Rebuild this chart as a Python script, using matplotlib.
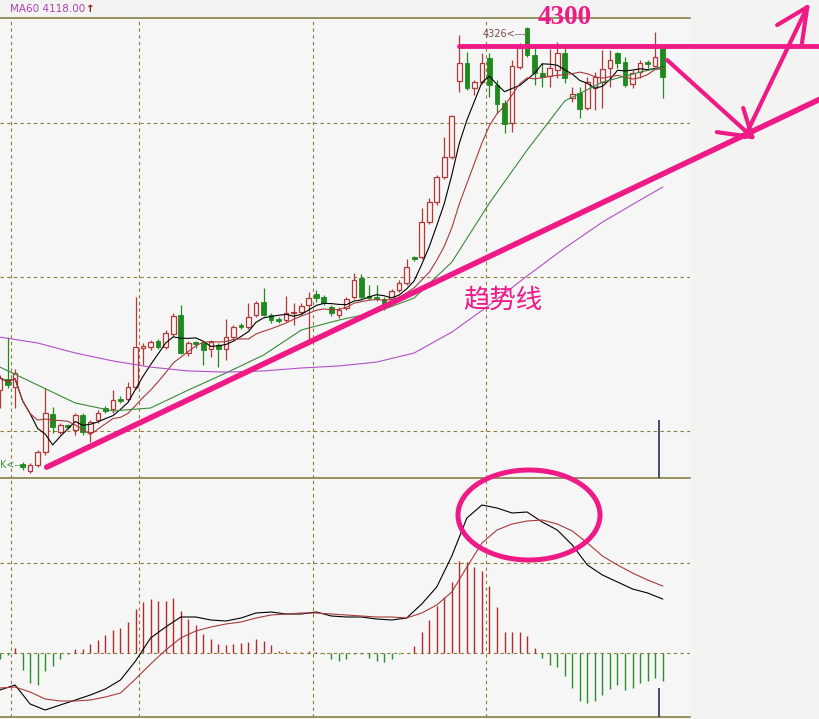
import matplotlib
matplotlib.use("Agg")
import matplotlib.pyplot as plt
from matplotlib.patches import Ellipse
import numpy as np
import pandas as pd

plt.rcParams['font.family'] = ['Noto Sans CJK SC', 'DejaVu Sans']

# 日K线数据 (开, 高, 低, 收)
opens = [3092, 3129, 3102, 2840, 2817, 2837, 2881, 3010, 2949, 2973,
         2956, 3007, 2949, 2990, 3031, 3027, 3061, 3061, 3102, 3235,
         3238, 3259, 3238, 3282, 3347, 3218, 3255, 3252, 3231, 3245,
         3231, 3272, 3313, 3306, 3347, 3391, 3347, 3333, 3330, 3354,
         3357, 3381, 3418, 3408, 3374, 3347, 3371, 3408, 3473, 3412,
         3408, 3401, 3401, 3432, 3456, 3544, 3544, 3663, 3731, 3816,
         3884, 4143, 4204, 4119, 4139, 4221, 4129, 4068, 4000, 4190,
         4323, 4231, 4170, 4160, 4180, 4238, 4085, 4102, 4051, 4119,
         4139, 4187, 4238, 4207, 4132, 4173, 4207, 4194, 4255]
highs = [3143, 3272, 3163, 2847, 2844, 2888, 3099, 3034, 2980, 2976,
         3014, 3014, 2990, 3024, 3038, 3092, 3072, 3119, 3408, 3252,
         3262, 3265, 3296, 3354, 3381, 3259, 3259, 3259, 3262, 3252,
         3333, 3313, 3320, 3388, 3395, 3439, 3354, 3340, 3412, 3388,
         3388, 3425, 3432, 3415, 3381, 3374, 3408, 3490, 3486, 3449,
         3449, 3408, 3435, 3466, 3537, 3548, 3711, 3745, 3823, 3952,
         4027, 4299, 4241, 4146, 4238, 4238, 4146, 4078, 4214, 4272,
         4326, 4255, 4204, 4251, 4275, 4255, 4122, 4122, 4156, 4173,
         4248, 4248, 4241, 4224, 4180, 4214, 4214, 4309, 4262]
lows = [3031, 3099, 3031, 2820, 2810, 2830, 2871, 2946, 2942, 2959,
        2939, 2939, 2915, 2980, 3014, 3014, 3048, 3055, 3095, 3177,
        3228, 3231, 3231, 3276, 3214, 3208, 3235, 3177, 3204, 3170,
        3194, 3265, 3299, 3299, 3340, 3344, 3320, 3320, 3323, 3313,
        3347, 3262, 3391, 3381, 3344, 3337, 3364, 3401, 3401, 3398,
        3395, 3364, 3388, 3425, 3449, 3531, 3537, 3656, 3721, 3809,
        3877, 4105, 4112, 4095, 4132, 4088, 4034, 3966, 3969, 4183,
        4224, 4129, 4122, 4122, 4153, 4136, 4071, 4017, 4044, 4044,
        4051, 4122, 4187, 4122, 4119, 4153, 4187, 4190, 4085]
closes = [3133, 3109, 3150, 2830, 2837, 2881, 3014, 2966, 2973, 2966,
          3007, 2949, 2983, 3014, 3021, 3058, 3055, 3102, 3238, 3242,
          3255, 3238, 3286, 3344, 3218, 3252, 3248, 3228, 3255, 3231,
          3272, 3306, 3306, 3340, 3388, 3347, 3330, 3327, 3354, 3357,
          3378, 3405, 3405, 3388, 3354, 3364, 3401, 3466, 3408, 3405,
          3401, 3384, 3429, 3456, 3510, 3537, 3663, 3731, 3816, 3884,
          4024, 4204, 4119, 4139, 4204, 4129, 4064, 3996, 4194, 4255,
          4231, 4170, 4156, 4187, 4238, 4153, 4098, 4047, 4139, 4156,
          4183, 4214, 4204, 4129, 4170, 4204, 4200, 4224, 4156]

# 20日、60日均线
ma_days = [0, 5, 10, 15, 20, 25, 30, 35, 40, 45, 50, 55, 60, 65, 70, 75, 80, 85, 88]
ma20 = [3170, 3109, 3048, 3021, 3031, 3092, 3150, 3211, 3296, 3330,
        3357, 3405, 3527, 3728, 3908, 4075, 4139, 4173, 4190]
ma60 = [3272, 3252, 3218, 3191, 3170, 3157, 3153, 3157, 3167, 3174,
        3187, 3218, 3289, 3381, 3480, 3575, 3663, 3738, 3782]

# MACD
macd_days = list(range(0, 89, 2))
dif = [-37, -32, -51, -57, -52, -47, -42, -36, -27, -8, 15, 26, 36, 36, 33,
       32, 35, 40, 41, 39, 39, 41, 37, 36, 36, 34, 33, 35, 49, 66,
       97, 135, 148, 145, 140, 141, 131, 123, 108, 88, 78, 71, 64, 60, 54]
dea = [-35, -34, -39, -46, -48, -48, -47, -44, -40, -26, -11, 3, 15, 22, 26,
       29, 31, 35, 38, 39, 40, 40, 39, 38, 37, 36, 36, 35, 40, 48,
       61, 86, 110, 123, 129, 132, 133, 129, 122, 110, 97, 88, 80, 73, 67]
macd_bar = [-6, -2, 5, -17, -30, -32, -18, -13, -6, -1,
            4, 4, 9, 13, 18, 23, 25, 31, 44, 51,
            54, 52, 52, 55, 42, 34, 28, 19, 14, 9,
            8, 9, 10, 11, 14, 12, 8, 2, 2, 1,
            1, 2, 1, -1, -6, -8, -6, -1, -1, -5,
            -8, -9, -6, -1, 0.5, 7, 21, 33, 47, 56,
            71, 92, 91, 86, 82, 67, 46, 21, 21, 21,
            17, 5, -5, -12, -14, -23, -35, -48, -50, -48,
            -42, -36, -32, -37, -35, -30, -28, -25, -28]

# 网格位置
grid_prices = [2953, 3476, 4000]
grid_days = [1.5, 18.5, 41.5, 64.5]
macd_grid = [0, 90]

# 手画的标注 (日序号, 点位)
trend_days = [6.2, 108.8]
trend_prices = [2830, 4080]
level_days = [61.0, 108.8]
level_price = 4263
down_arrow = ([88.6, 99.9], [4214, 3952])
down_wings = ([95.2, 98.7], [3969, 4051])
up_arrow = ([98.9, 107.2], [3952, 4394])
up_wings = ([103.2, 106.5], [4333, 4272])

PINK = '#ef1a86'
UPC = '#b03a3a'
DNC = '#1f8a1f'
GRIDC = '#8a7d3a'
SPINEC = '#84804a'

opens = np.array(opens, float)
highs = np.array(highs, float)
lows = np.array(lows, float)
closes = np.array(closes, float)
x = np.arange(len(closes))
up = closes >= opens
dn = ~up

fig = plt.figure(figsize=(8.19, 7.19), dpi=100, facecolor='#f3f3f1')
ax = fig.add_axes([0, 1 - 478 / 719, 690 / 819, 460 / 719])
ax2 = fig.add_axes([0, 2 / 719, 690 / 819, 238 / 719])

for a in (ax, ax2):
    a.set_facecolor('#f6f6f6')
    a.set_xlim(0, 91.63)
    a.set_xticks([])
    a.set_yticks([])
    for s in ('left', 'right'):
        a.spines[s].set_visible(False)
    for s in ('top', 'bottom'):
        a.spines[s].set_color(SPINEC)
        a.spines[s].set_linewidth(1.2)
    for d in grid_days:
        a.axvline(d, color=GRIDC, lw=0.8, ls=(0, (3, 3)), zorder=1)
ax2.spines['top'].set_visible(False)

ax.set_ylim(2793, 4357)
ax2.set_ylim(-64, 174)
for p in grid_prices:
    ax.axhline(p, color=GRIDC, lw=0.8, ls=(0, (3, 3)), zorder=1)
for p in macd_grid:
    ax2.axhline(p, color=GRIDC, lw=0.8, ls=(0, (3, 3)), zorder=1)

# K线
w = 0.62
ax.vlines(x[up], lows[up], opens[up], color=UPC, lw=0.9, zorder=2)
ax.vlines(x[up], closes[up], highs[up], color=UPC, lw=0.9, zorder=2)
ax.vlines(x[dn], lows[dn], highs[dn], color=DNC, lw=0.9, zorder=2)
ax.bar(x[up], np.maximum(closes[up] - opens[up], 4), bottom=opens[up], width=w,
       facecolor='#fdf1f1', edgecolor=UPC, lw=0.9, zorder=3)
ax.bar(x[dn], np.maximum(opens[dn] - closes[dn], 4), bottom=closes[dn], width=w,
       facecolor=DNC, edgecolor=DNC, lw=0.6, zorder=3)

# 均线
s = pd.Series(closes)
ma5 = s.rolling(5, min_periods=1).mean()
ma10 = s.rolling(10, min_periods=1).mean()
ax.plot(x, ma5, color='black', lw=0.8, zorder=4)
ax.plot(x, ma10, color='#a83a3a', lw=0.8, zorder=4)
ax.plot(ma_days, ma20, color='#3a8a3a', lw=0.8, zorder=4)
ax.plot(ma_days, ma60, color='#b24fc6', lw=0.8, zorder=4)

ax.text(64.1, 4302, '4326<----', fontsize=7, color='#7a4c4c', family='DejaVu Sans',
        va='center', ha='left', zorder=5)
ax.text(0, 2837, 'K<--', fontsize=7, color='#3a9a3a', family='DejaVu Sans',
        va='center', ha='left', zorder=5)
ax.vlines(87.45, 2793, 2990, color='#1c1c50', lw=1.1, zorder=5)
ax2.vlines(87.45, -64, -35, color='#1c1c50', lw=1.1, zorder=5)

# MACD
bar_x = np.arange(len(macd_bar))
bar_v = np.array(macd_bar, float)
ax2.vlines(bar_x[bar_v >= 0], 0, bar_v[bar_v >= 0], color='#b02a2a', lw=1.0, zorder=2)
ax2.vlines(bar_x[bar_v < 0], 0, bar_v[bar_v < 0], color='#2a8f2a', lw=1.0, zorder=2)
ax2.plot(macd_days, dif, color='black', lw=0.8, zorder=3)
ax2.plot(macd_days, dea, color='#a83a3a', lw=0.8, zorder=3)

# 标注
kw = dict(color=PINK, solid_capstyle='round', clip_on=False, zorder=8)
ax.plot(trend_days, trend_prices, lw=4.0, **kw)
ax.plot(level_days, [level_price, level_price], lw=3.5, **kw)
ax.plot(*down_arrow, lw=3.0, **kw)
for dx, py in zip(*down_wings):
    ax.plot([dx, down_arrow[0][1]], [py, down_arrow[1][1]], lw=3.0, **kw)
ax.plot(*up_arrow, lw=3.0, **kw)
for dx, py in zip(*up_wings):
    ax.plot([dx, up_arrow[0][1]], [py, up_arrow[1][1]], lw=3.0, **kw)

ax.text(75.0, 4360, '4300', fontsize=19.5, fontweight='bold', color=PINK,
        family='Liberation Serif', ha='center', va='center', clip_on=False, zorder=9)
ax.text(66.7, 3398, '趋势线', fontsize=19, color=PINK, ha='center', va='center', zorder=9)

ax2.add_patch(Ellipse((70.25, 138), 18.86, 90, fill=False, edgecolor=PINK, lw=3.6,
                      clip_on=False, zorder=8))

fig.text(10 / 819, 1 - 9 / 719, 'MA60 4118.00', fontsize=7.5, color='#b040b8',
         family='DejaVu Sans', va='center', ha='left')
fig.text(86 / 819, 1 - 9 / 719, '↑', fontsize=7.5, color='#8b1a1a',
         family='DejaVu Sans', va='center', ha='left', fontweight='bold')

fig.savefig('out.png', dpi=100, facecolor=fig.get_facecolor())
